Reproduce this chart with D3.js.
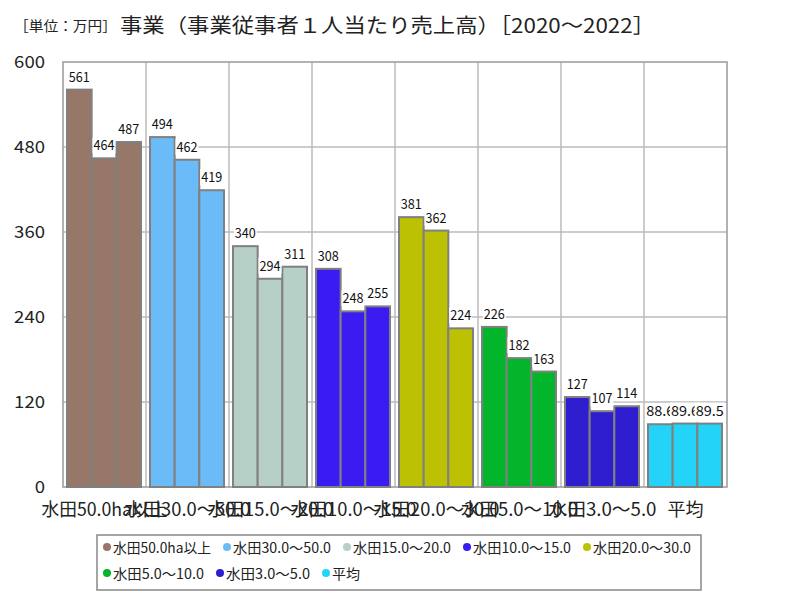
<!DOCTYPE html>
<html><head><meta charset="utf-8">
<script src="https://cdn.jsdelivr.net/npm/d3@7"></script>
<style>
body{margin:0;background:#fff;}
text{font-family:"Noto Sans CJK JP","DejaVu Sans",sans-serif;}
</style></head><body>
<svg id="c" width="800" height="600"></svg>
<script>
const categories = ["水田50.0ha以上","水田30.0～50.0","水田15.0～20.0","水田10.0～15.0","水田20.0～30.0","水田5.0～10.0","水田3.0～5.0","平均"];
const years = ["2020","2021","2022"];
const values = [
  [561,464,487],
  [494,462,419],
  [340,294,311],
  [308,248,255],
  [381,362,224],
  [226,182,163],
  [127,107,114],
  [88.6,89.6,89.5]
];
const valueLabels = [
  ["561","464","487"],["494","462","419"],["340","294","311"],["308","248","255"],
  ["381","362","224"],["226","182","163"],["127","107","114"],["88.6","89.6","89.5"]
];
const colors = ["#977767","#6bbbf8","#b6cfc7","#3a1cf2","#bcc203","#03b52a","#2f1ed0","#23d4f8"];
const yTicks = [0,120,240,360,480,600];

// width in em units, full-width = 1, half-width = 0.5 (MS Gothic-like metrics)
const units = s => Array.from(s).reduce((a,ch)=>a+(ch.charCodeAt(0)>0xff?1:0.5),0);
function fitText(sel, fs){
  sel.attr("font-size",fs).attr("textLength",d=>units(typeof d==="string"?d:String(d))*fs)
     .attr("lengthAdjust","spacingAndGlyphs");
  return sel;
}

const svg = d3.select("#c");
const m = {l:63, r:73, t:62, b:113};
const W = 800, H = 600;
const x = d3.scaleBand().domain(categories).range([m.l, W-m.r]);
const xi = d3.scaleBand().domain(years).range([4, x.bandwidth()-5]);
const y = d3.scaleLinear().domain([0,600]).range([H-m.b, m.t]);

// title
svg.append("text").attr("x",14).attr("y",31).attr("font-size",14).attr("fill","#222")
  .attr("textLength",103).attr("lengthAdjust","spacingAndGlyphs").text("［単位：万円］");
svg.append("text").attr("x",120).attr("y",33).attr("font-size",20).attr("fill","#222")
  .attr("textLength",535).attr("lengthAdjust","spacingAndGlyphs")
  .text("事業（事業従事者１人当たり売上高）［2020～2022］");

// grid
const g = svg.append("g");
g.selectAll(".hg").data(yTicks.filter(d=>d>0&&d<600)).enter().append("line")
  .attr("x1",m.l).attr("x2",W-m.r).attr("y1",d=>y(d)).attr("y2",d=>y(d))
  .attr("stroke","#bbb").attr("stroke-width",1.5);
g.selectAll(".vg").data(categories.slice(1)).enter().append("line")
  .attr("x1",d=>x(d)).attr("x2",d=>x(d)).attr("y1",m.t).attr("y2",H-m.b)
  .attr("stroke","#bbb").attr("stroke-width",1.5);
g.append("rect").attr("x",m.l).attr("y",m.t).attr("width",W-m.r-m.l).attr("height",H-m.b-m.t)
  .attr("fill","none").attr("stroke","#999").attr("stroke-width",1.5);

// y axis labels
svg.selectAll(".yt").data(yTicks).enter().append("text")
  .attr("x",45).attr("y",d=>y(d)+6).attr("text-anchor","end").attr("font-size",17).attr("fill","#222")
  .attr("textLength",d=>String(d).length*10.3).attr("lengthAdjust","spacingAndGlyphs")
  .text(d=>d);

// bars
const grp = svg.selectAll(".grp").data(categories).enter().append("g")
  .attr("transform",d=>`translate(${x(d)},0)`);
grp.each(function(c,ci){
  const gg = d3.select(this);
  years.forEach((yr,yi)=>{
    const v = values[ci][yi];
    gg.append("rect").attr("x",xi(yr)).attr("y",y(v)).attr("width",xi.bandwidth()).attr("height",y(0)-y(v))
      .attr("fill",colors[ci]).attr("stroke","#808080").attr("stroke-width",2);
  });
  years.forEach((yr,yi)=>{
    const v = values[ci][yi];
    const lab = valueLabels[ci][yi];
    const cx = xi(yr)+xi.bandwidth()/2;
    const w = units(lab)*14;
    gg.append("rect").attr("x",cx-w/2-1).attr("y",y(v)-21).attr("width",w+2).attr("height",16)
      .attr("fill","#fff");
    gg.append("text").attr("x",cx).attr("y",y(v)-8).attr("text-anchor","middle")
      .attr("font-size",14).attr("fill","#111")
      .attr("textLength",w).attr("lengthAdjust","spacingAndGlyphs").text(lab);
  });
});

// x axis labels
svg.selectAll(".xl").data(categories).enter().append("text")
  .attr("x",d=>x(d)+x.bandwidth()/2).attr("y",516).attr("text-anchor","middle")
  .attr("fill","#222").text(d=>d).call(fitText,18);

// legend
svg.append("rect").attr("x",97).attr("y",535).attr("width",604).attr("height",55)
  .attr("fill","#fff").attr("stroke","#888").attr("stroke-width",1.5);
const rows = [[0,1,2,3,4],[5,6,7]];
rows.forEach((r,ri)=>{
  let lx = 107;
  const ly = 547 + ri*26;
  r.forEach(ci=>{
    const lab = categories[ci];
    svg.append("circle").attr("cx",lx).attr("cy",ly).attr("r",4).attr("fill",colors[ci]);
    const w = units(lab)*14;
    svg.append("text").attr("x",lx+6).attr("y",ly+6).attr("font-size",14).attr("fill","#222")
      .attr("textLength",w).attr("lengthAdjust","spacingAndGlyphs").text(lab);
    lx += 6 + w + 16;
  });
});
</script></body></html>
